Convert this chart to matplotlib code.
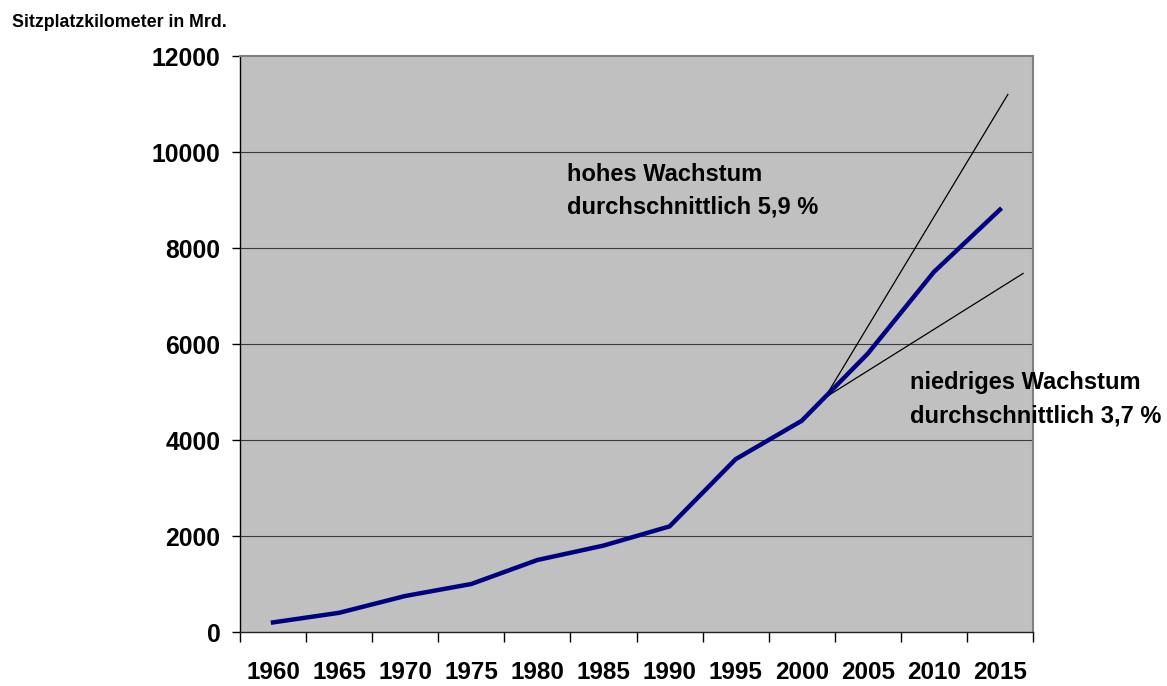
import numpy as np
import matplotlib
matplotlib.use("Agg")
import matplotlib.pyplot as plt

plt.rcParams['font.family'] = ['Liberation Sans', 'DejaVu Sans']

# data
years = ['1960', '1965', '1970', '1975', '1980', '1985',
         '1990', '1995', '2000', '2005', '2010', '2015']
seats = [200, 400, 750, 1000, 1500, 1800, 2200, 3600, 4400, 5800, 7500, 8800]

# growth scenarios (category position, value)
high_x = [8.35, 11.12]
high_y = [4880, 11200]
low_x = [8.35, 11.35]
low_y = [4880, 7470]

yticks = [0, 2000, 4000, 6000, 8000, 10000, 12000]

fig = plt.figure(figsize=(11.67, 6.86), dpi=100)
ax = fig.add_axes([240/1167, 54/686, 793/1167, 576/686])
ax.set_facecolor('#c0c0c0')

x = np.arange(len(years))
ax.plot(x, seats, color='#000080', lw=3.2, solid_joinstyle='miter', zorder=3)
ax.plot(high_x, high_y, color='black', lw=0.9, zorder=2)
ax.plot(low_x, low_y, color='black', lw=0.9, zorder=2)

ax.set_xlim(-0.5, len(years) - 0.5)
ax.set_ylim(0, 12000)

# category labels centred, tick marks between categories
ax.set_xticks(x)
ax.set_xticklabels(years, fontsize=17.5, fontweight='bold')
ax.tick_params(axis='x', which='major', length=0, pad=21)
ax.set_xticks(np.arange(-0.5, len(years)), minor=True)
ax.tick_params(axis='x', which='minor', length=7, width=1, color='black',
               direction='out')

ax.set_yticks(yticks)
ax.set_yticklabels([str(v) for v in yticks], fontsize=17.8, fontweight='bold')
ax.tick_params(axis='y', length=6, width=1, color='black', direction='out', pad=8)

for v in yticks[1:-1]:
    ax.axhline(v, color='#3a3a3a', lw=0.8, zorder=1)

ax.spines['left'].set_color('black')
ax.spines['left'].set_linewidth(1.0)
ax.spines['bottom'].set_color('#222222')
ax.spines['bottom'].set_linewidth(1.0)
ax.spines['top'].set_color('#808080')
ax.spines['top'].set_linewidth(1.5)
ax.spines['right'].set_color('#808080')
ax.spines['right'].set_linewidth(1.5)

ax.text(4.45, 9780, 'hohes Wachstum\ndurchschnittlich 5,9 %', fontsize=17,
        fontweight='bold', va='top', ha='left', linespacing=1.55, zorder=4)
ax.text(9.64, 5430, 'niedriges Wachstum\ndurchschnittlich 3,7 %', fontsize=17,
        fontweight='bold', va='top', ha='left', linespacing=1.55, zorder=4,
        clip_on=False)

fig.text(12/1167, 1 - 27/686, 'Sitzplatzkilometer in Mrd.', fontsize=12.8,
         fontweight='bold', ha='left', va='baseline')

fig.savefig('out.png', dpi=100)
